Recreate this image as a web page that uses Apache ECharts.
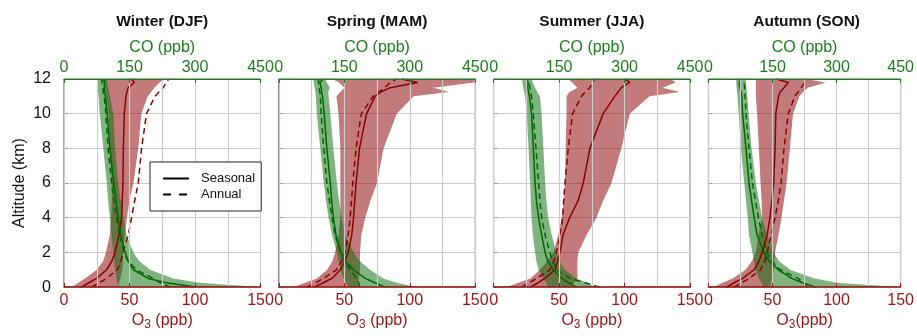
<!DOCTYPE html>
<html>
<head>
<meta charset="utf-8">
<script src="https://cdn.jsdelivr.net/npm/echarts@6/dist/echarts.min.js"></script>
<style>
  html, body { margin: 0; padding: 0; background: #fff; }
  #chart { width: 917px; height: 336px; }
</style>
</head>
<body>
<div id="chart"></div>
<script>
// altitude levels (km) shared by every profile
const altitude = [0, 0.25, 0.5, 1, 1.5, 2, 3, 4, 5, 6, 8, 10, 11, 11.25, 11.5, 11.8, 12]
const altTicks = [0, 2, 4, 6, 8, 10, 12]
const o3Ticks = [0, 50, 100, 150]
const coTicks = [0, 150, 300, 450]
const seasonTitles = ['Winter (DJF)', 'Spring (MAM)', 'Summer (JJA)', 'Autumn (SON)']
const legendNames = ['Seasonal', 'Annual']

// Winter (DJF)
const winterO3Min = [6, 11, 16, 25, 30, 32, 35, 36, 36.5, 36.5, 35, 34, 32.5, 32, 31, 30.5, 30]
const winterO3Max = [41, 42, 43, 44.5, 45, 45, 46.5, 48, 50, 53, 56.7, 59, 64, 66.5, 69, 73, 77]
const winterO3Seasonal = [13.5, 19, 25, 32.5, 36.5, 39, 42, 44, 44.5, 45, 45.3, 46, 47.3, 48, 49, 53.6, 51.6]
const winterO3Annual = [21, 27, 32.5, 40.7, 43.5, 45, 49, 51.6, 54, 56.7, 59.2, 63, 69.4, 72.5, 75.8, 78, 80]
const winterCOMin = [124, 122, 120, 117, 115, 113, 109, 105, 101, 98, 90, 82, 79, 78, 77, 76, 75]
const winterCOMax = [449, 311, 250, 197, 172, 159, 143, 136, 130, 124, 117, 113, 105, 103, 101, 99, 98]
const winterCOSeasonal = [300, 235, 193, 159, 147, 140, 130, 124, 119, 114, 105, 99, 95, 93, 92, 93, 90]
const winterCOAnnual = [244, 220, 204, 166, 147, 137, 128, 120, 114, 109, 101, 96, 92, 90, 89, 87, 86]

// Spring (MAM)
const springO3Min = [11, 20, 29, 37, 41, 43, 45.6, 47, 47, 47, 47, 45.6, 44, 47, 50, 46, 41]
const springO3Max = [60, 61, 61, 62, 62, 62, 63, 66, 70, 75, 80, 90, 103, 130, 118, 149, 150]
const springO3Seasonal = [26.6, 34, 40.5, 47, 50.5, 53, 55.7, 57, 58, 59, 61.6, 67, 73.5, 78, 85, 106, 94]
const springO3Annual = [21.5, 28, 34, 44, 48, 50.7, 53, 54.5, 55.5, 56.5, 59, 63, 72, 76, 81, 85, 90]
const springCOMin = [160, 154, 148, 141, 137, 133, 122, 114, 108, 103, 95, 87, 85, 84, 82, 80, 79]
const springCOMax = [315, 270, 239, 209, 185, 171, 152, 144, 138, 133, 125, 118, 114, 113, 117, 110, 106]
const springCOSeasonal = [243, 220, 198, 171, 152, 142, 131, 125, 121, 118, 110, 104, 100, 98, 97, 94, 102]
const springCOAnnual = [185, 183, 178, 163, 150, 141, 129, 122, 116, 110, 103, 97, 95, 94, 92, 91, 91]

// Summer (JJA)
const summerO3Min = [10, 19, 28, 35.5, 41, 45.6, 49.4, 52, 53.7, 54.5, 55, 55.7, 55.7, 58, 64, 60, 57]
const summerO3Max = [58, 62, 64, 64, 64, 64.6, 71, 78.5, 83.6, 90, 97.5, 104, 119, 142, 129, 139, 135]
const summerO3Seasonal = [28, 34, 39, 47, 49, 50.7, 53, 58, 64.6, 68.4, 73.5, 83.6, 92.5, 95, 97.5, 104, 100]
const summerO3Annual = [21.5, 27, 33, 43, 46, 48, 50.7, 52.7, 53.5, 54.5, 57, 60.3, 67, 70, 73.5, 75.5, 77]
const summerCOMin = [125, 120, 114, 103, 98, 95, 90, 87, 85, 84, 80, 76, 72, 70, 68, 66, 65]
const summerCOMax = [236, 213, 190, 163, 151, 144, 133, 125, 121, 118, 114, 110, 106, 100, 95, 90, 87]
const summerCOSeasonal = [190, 172, 156, 137, 124, 118, 110, 103, 98, 95, 91, 87, 82, 80, 78, 79, 76]
const summerCOAnnual = [243, 210, 175, 144, 135, 129, 118, 110, 106, 103, 97, 91, 87, 85, 83, 81, 80]

// Autumn (SON)
const autumnO3Min = [4, 11, 19, 29, 34, 37, 39, 42, 41.5, 40.7, 39.4, 38, 37, 37, 37, 37, 37]
const autumnO3Max = [48, 49, 49.6, 51, 51.5, 52, 54.7, 57, 59, 61, 63.6, 66, 71, 74, 77.5, 91.5, 76]
const autumnO3Seasonal = [14, 20, 26.7, 35.6, 39.5, 42, 45.8, 48, 49.5, 51, 52, 52.6, 54.7, 56, 59, 62.3, 53]
const autumnO3Annual = [20, 26, 31.8, 40.7, 44, 45.8, 49, 52, 54.5, 56.7, 59, 62.3, 67.4, 70, 72.5, 75, 77.5]
const autumnCOMin = [130, 124, 118, 111, 107, 103, 95, 92, 88, 84, 76, 71, 68, 67, 66, 65, 65]
const autumnCOMax = [450, 301, 248, 191, 165, 153, 137, 126, 118, 111, 101, 94, 91, 90, 89, 88, 88]
const autumnCOSeasonal = [252, 220, 195, 164, 142, 130, 114, 107, 101, 95, 88, 80, 78, 77, 73, 72, 76]
const autumnCOAnnual = [233, 222, 210, 168, 148, 137, 126, 117, 110, 103, 95, 88, 86, 85, 85, 84, 84]

const panels = [
  { o3: [winterO3Min, winterO3Max, winterO3Seasonal, winterO3Annual], co: [winterCOMin, winterCOMax, winterCOSeasonal, winterCOAnnual] },
  { o3: [springO3Min, springO3Max, springO3Seasonal, springO3Annual], co: [springCOMin, springCOMax, springCOSeasonal, springCOAnnual] },
  { o3: [summerO3Min, summerO3Max, summerO3Seasonal, summerO3Annual], co: [summerCOMin, summerCOMax, summerCOSeasonal, summerCOAnnual] },
  { o3: [autumnO3Min, autumnO3Max, autumnO3Seasonal, autumnO3Annual], co: [autumnCOMin, autumnCOMax, autumnCOSeasonal, autumnCOAnnual] },
]

const FONT = '"Liberation Sans", Arial, Helvetica, sans-serif'
const RED = '#9a1515'
const RED_LINE = '#8b0000'
const RED_FILL = 'rgba(139, 0, 0, 0.52)'
const GREEN = '#1b7f1b'
const GREEN_LINE = '#006800'
const GREEN_FILL = 'rgba(10, 110, 10, 0.52)'
const GRID_GRAY = '#cccccc'
const DASH = [6, 4]

const chart = echarts.init(document.getElementById('chart'))

const PANEL_LEFT = 64
const PANEL_STEP = 214.8
const PANEL_W = 196.5

const grids = []
const titles = []
const xAxes = []
const yAxes = []
const series = []

// polygon between a min and max profile, drawn through the axis scales
function band(idx, minArr, maxArr, xIdx, fill) {
  return {
    type: 'custom',
    xAxisIndex: xIdx,
    yAxisIndex: idx,
    clip: true,
    silent: true,
    data: altitude.map((a, i) => [minArr[i], maxArr[i], a]),
    encode: { x: [0, 1], y: 2 },
    renderItem: function (params, api) {
      if (params.dataIndex !== 0) return null
      const pts = []
      for (let i = 0; i < altitude.length; i++) pts.push(api.coord([minArr[i], altitude[i]]))
      for (let i = altitude.length - 1; i >= 0; i--) pts.push(api.coord([maxArr[i], altitude[i]]))
      return { type: 'polygon', shape: { points: pts }, style: { fill: fill, stroke: null } }
    },
    z: 2,
  }
}

function profile(idx, arr, xIdx, color, dashed) {
  return {
    type: 'line',
    xAxisIndex: xIdx,
    yAxisIndex: idx,
    data: arr.map((v, i) => [v, altitude[i]]),
    symbol: 'none',
    silent: true,
    lineStyle: { color: color, width: 1.5, type: dashed ? DASH : 'solid' },
    z: dashed ? 4 : 5,
  }
}

panels.forEach((p, i) => {
  const left = PANEL_LEFT + i * PANEL_STEP
  grids.push({
    left: left, top: 79, width: PANEL_W, height: 215,
    show: true, borderColor: '#4a4a4a', borderWidth: 1, backgroundColor: 'transparent',
  })
  titles.push({
    text: seasonTitles[i],
    left: left + PANEL_W / 2, top: 14, textAlign: 'center', padding: 0,
    textStyle: { fontFamily: FONT, fontSize: 15.5, fontWeight: 'bold', color: '#111' },
  })
  const o3Name = i === 3 ? '{o|O}{s|3}{o|(ppb)}' : '{o|O}{s|3}{o| (ppb)}'
  // bottom O3 axis
  xAxes.push({
    type: 'value', gridIndex: i, position: 'bottom',
    min: o3Ticks[0], max: o3Ticks[o3Ticks.length - 1], interval: o3Ticks[1] - o3Ticks[0],
    name: o3Name, nameLocation: 'middle', nameGap: 21,
    nameTextStyle: {
      color: RED, fontFamily: FONT, fontSize: 16,
      rich: {
        o: { color: RED, fontFamily: FONT, fontSize: 16 },
        s: { color: RED, fontFamily: FONT, fontSize: 12, padding: [8, 0, 0, 0] },
      },
    },
    axisLine: { show: true, lineStyle: { color: RED, width: 1.5 } },
    axisTick: { show: true, inside: true, length: 4, lineStyle: { color: RED } },
    axisLabel: { color: RED, fontFamily: FONT, fontSize: 16, margin: 5 },
    splitLine: { show: true, lineStyle: { color: GRID_GRAY, width: 1.2 } },
    minorTick: { show: false, splitNumber: 2 },
    minorSplitLine: { show: true, lineStyle: { color: GRID_GRAY, width: 1.2 } },
    z: 6,
  })
  // top CO axis
  xAxes.push({
    type: 'value', gridIndex: i, position: 'top',
    min: coTicks[0], max: coTicks[coTicks.length - 1], interval: coTicks[1] - coTicks[0],
    name: 'CO (ppb)', nameLocation: 'middle', nameGap: 21,
    nameTextStyle: { color: GREEN, fontFamily: FONT, fontSize: 16 },
    axisLine: { show: true, lineStyle: { color: GREEN, width: 1.2 } },
    axisTick: { show: true, inside: true, length: 4, lineStyle: { color: GREEN } },
    axisLabel: { color: GREEN, fontFamily: FONT, fontSize: 16, margin: 3 },
    splitLine: { show: false },
    z: 6,
  })
  yAxes.push({
    type: 'value', gridIndex: i,
    min: altTicks[0], max: altTicks[altTicks.length - 1], interval: altTicks[1] - altTicks[0],
    name: i === 0 ? 'Altitude (km)' : '', nameLocation: 'middle', nameGap: 36,
    nameTextStyle: { color: '#111', fontFamily: FONT, fontSize: 16 },
    axisLine: { show: false },
    axisTick: { show: true, inside: true, length: 4, lineStyle: { color: '#999' } },
    axisLabel: { show: i === 0, color: '#111', fontFamily: FONT, fontSize: 16, margin: 13 },
    splitLine: { show: true, lineStyle: { color: GRID_GRAY, width: 1.2 } },
  })

  const xO3 = i * 2
  const xCO = i * 2 + 1
  series.push(band(i, p.o3[0], p.o3[1], xO3, RED_FILL))
  series.push(band(i, p.co[0], p.co[1], xCO, GREEN_FILL))
  series.push(profile(i, p.o3[3], xO3, RED_LINE, true))
  series.push(profile(i, p.o3[2], xO3, RED_LINE, false))
  series.push(profile(i, p.co[3], xCO, GREEN_LINE, true))
  series.push(profile(i, p.co[2], xCO, GREEN_LINE, false))
})

// black legend samples on the first panel
legendNames.forEach((name, k) => {
  series.push({
    name: name, type: 'line', xAxisIndex: 0, yAxisIndex: 0, data: [],
    symbol: 'none', color: '#000',
    lineStyle: { color: '#000', width: 1.5, type: k === 0 ? 'solid' : [8, 8] },
  })
})

chart.setOption({
  animation: false,
  textStyle: { fontFamily: FONT },
  title: titles,
  grid: grids,
  xAxis: xAxes,
  yAxis: yAxes,
  legend: {
    data: legendNames, orient: 'vertical', left: 150, top: 162,
    backgroundColor: '#fff', borderColor: '#222', borderWidth: 1, borderRadius: 0,
    padding: [10, 6, 10, 12], itemGap: 3, itemWidth: 26, itemHeight: 14,
    itemStyle: { opacity: 0 },
    textStyle: { fontFamily: FONT, fontSize: 13, color: '#111', padding: [0, 0, 0, 7] },
    selectedMode: false, z: 10,
  },
  series: series,
})
</script>
</body>
</html>
